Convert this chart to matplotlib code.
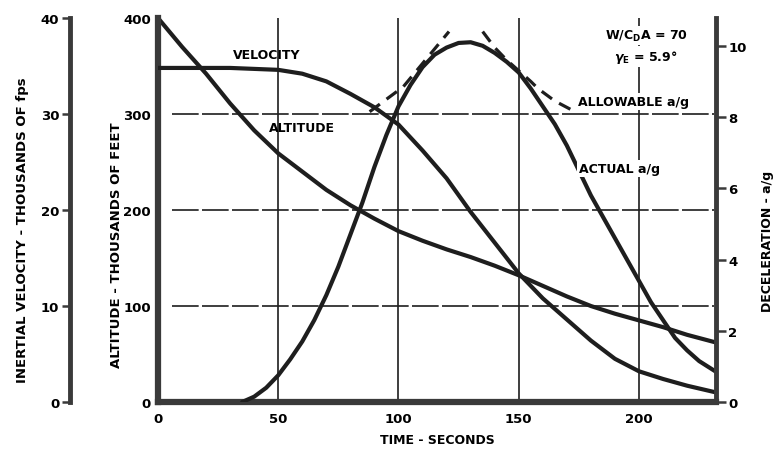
import matplotlib
matplotlib.use("Agg")
import matplotlib.pyplot as plt
import numpy as np

# trajectory curves
alt_t = [0, 10, 20, 30, 40, 50, 60, 70, 80, 90, 100, 110, 120, 130, 140, 150,
         160, 170, 180, 190, 200, 210, 220, 232]
altitude = [400, 370, 342, 311, 283, 259, 240, 221, 205, 191, 178, 168, 159, 151, 142, 132,
            121, 110, 100, 92, 85, 78, 70, 62]  # thousands of feet

vel_t = [0, 10, 20, 30, 40, 50, 60, 70, 80, 90, 100, 110, 120, 130, 140, 150,
         160, 170, 180, 190, 200, 210, 220, 232]
velocity = [34.8, 34.8, 34.8, 34.8, 34.7, 34.6, 34.2, 33.4, 32.1, 30.7, 28.9, 26.2, 23.3, 19.8,
            16.6, 13.4, 10.8, 8.6, 6.4, 4.5, 3.2, 2.4, 1.7, 1.0]  # thousands of fps

dec_t = [35, 40, 45, 50, 55, 60, 65, 70, 75, 80, 85, 90, 95, 100, 105, 110, 115, 120, 125,
         130, 135, 140, 145, 150, 155, 160, 165, 170, 175, 180, 185, 190, 195, 200, 205,
         210, 215, 220, 225, 232]
decel = [0, 0.15, 0.4, 0.75, 1.2, 1.7, 2.3, 3.0, 3.8, 4.7, 5.6, 6.6, 7.5, 8.3, 8.9, 9.4, 9.75,
         9.95, 10.08, 10.1, 10.0, 9.8, 9.55, 9.25, 8.8, 8.3, 7.8, 7.2, 6.5, 5.8, 5.2, 4.6, 4.0,
         3.4, 2.8, 2.3, 1.8, 1.45, 1.15, 0.85]

# allowable limit runs off the top of the scale around the peak
allow_t = [88, 102, 121, 128, 135, 140, 145, 150, 155, 158, 165, 172]
allow = [8.15, 8.85, 10.4, np.nan, 10.4, 9.95, 9.6, 9.3, 9.0, 8.8, 8.45, 8.2]

x_ticks = [0, 50, 100, 150, 200]
alt_ticks = [0, 100, 200, 300, 400]
vel_ticks = [0, 10, 20, 30, 40]
dec_ticks = [0, 2, 4, 6, 8, 10]

plt.rcParams['font.family'] = ['DejaVu Sans']
plt.rcParams['font.weight'] = 'bold'
ink = '#1e1e1e'
spine_col = '#3a3a3a'

fig = plt.figure(figsize=(7.84, 4.56), dpi=100)
ax = fig.add_axes([0.2015, 0.1162, 0.7117, 0.8421])
ax_v = ax.twinx()
ax_d = ax.twinx()

ax.set_xlim(0, 232)
ax.set_ylim(0, 400)
ax_v.set_ylim(0, 40)
ax_d.set_ylim(0, 10.78)

# sparse grid
ax.vlines(x_ticks[1:], 0, 400, color=ink, lw=1.2, zorder=1)
ax.hlines(alt_ticks[1:4], 6, 231, color=ink, lw=1.2, linestyles=(0, (16, 2)), zorder=1)

ax.plot(alt_t, altitude, color=ink, lw=3, solid_capstyle='round')
ax_v.plot(vel_t, velocity, color=ink, lw=3, solid_capstyle='round')
ax_d.plot(dec_t, decel, color=ink, lw=3, solid_capstyle='round')
ax_d.plot(allow_t, allow, color=ink, lw=2.3, linestyle=(0, (4, 2.6)))

for a in (ax, ax_v, ax_d):
    for s in a.spines.values():
        s.set_visible(False)
        s.set_color(spine_col)

ax.spines['left'].set_visible(True)
ax.spines['left'].set_linewidth(4.5)
ax.spines['bottom'].set_visible(True)
ax.spines['bottom'].set_linewidth(4.5)
ax_d.spines['right'].set_visible(True)
ax_d.spines['right'].set_linewidth(3.5)
ax_v.spines['left'].set_visible(True)
ax_v.spines['left'].set_linewidth(3.5)
ax_v.spines['left'].set_position(('outward', 63))

tick_font = dict(fontsize=9.5, fontweight='bold')
ax.set_xticks(x_ticks)
ax.set_xticklabels([str(v) for v in x_ticks], **tick_font)
ax.tick_params(axis='x', length=0, pad=7)
ax.set_yticks(alt_ticks)
ax.set_yticklabels([str(v) for v in alt_ticks], **tick_font)
ax.tick_params(axis='y', length=0, pad=5)

ax_v.yaxis.set_ticks_position('left')
ax_v.yaxis.set_label_position('left')
ax_v.set_yticks(vel_ticks)
ax_v.set_yticklabels([str(v) for v in vel_ticks], **tick_font)
ax_v.tick_params(axis='y', length=6, width=1.8, color=spine_col, pad=2)

ax_d.set_yticks(dec_ticks)
ax_d.set_yticklabels([str(v) for v in dec_ticks], **tick_font)
ax_d.tick_params(axis='y', length=7, width=1.8, color=spine_col, pad=2)

ax.set_xlabel('TIME - SECONDS', labelpad=6, fontsize=9, fontweight='bold')
ax.set_ylabel('ALTITUDE - THOUSANDS OF FEET', fontsize=9.5, fontweight='bold')
ax.yaxis.set_label_coords(-0.062, 0.41)
ax_v.set_ylabel('INERTIAL VELOCITY - THOUSANDS OF fps', fontsize=9.5, fontweight='bold')
ax_v.yaxis.set_label_coords(-0.231, 0.45)
ax_d.set_ylabel('DECELERATION - a/g', rotation=90, fontsize=9, fontweight='bold')
ax_d.yaxis.set_label_coords(1.08, 0.42)

box = dict(facecolor='white', edgecolor='none', pad=1.5)
txt = dict(fontsize=9, fontweight='bold', transform=ax.transData, zorder=5)
ax_d.text(45, 362, 'VELOCITY', ha='center', va='center', **txt)
ax_d.text(60, 286, 'ALTITUDE', ha='center', va='center', **txt)
ax_d.text(174.5, 313, 'ALLOWABLE a/g', ha='left', va='center', bbox=box, **txt)
ax_d.text(175, 243, 'ACTUAL a/g', ha='left', va='center', bbox=box, **txt)
ax_d.text(203, 382, 'W/C$_{\\mathregular{D}}$A = 70', ha='center', va='center', bbox=box, **txt)
ax_d.text(203, 360, '$\\gamma_{\\mathregular{E}}$ = 5.9°', ha='center', va='center', bbox=box, **txt)

fig.savefig('out.png', dpi=100)
